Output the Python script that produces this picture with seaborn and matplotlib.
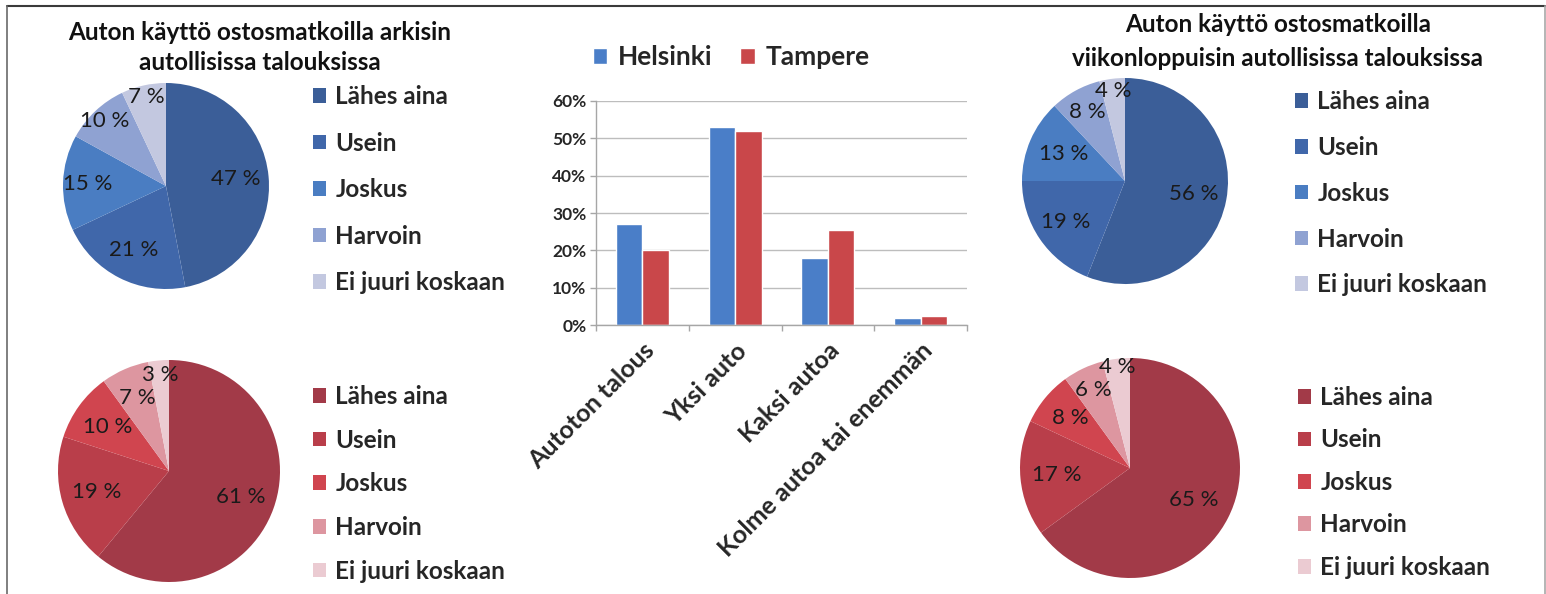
import numpy as np
import pandas as pd
import matplotlib
matplotlib.use("Agg")
import matplotlib.pyplot as plt
from matplotlib.lines import Line2D
from matplotlib.ticker import PercentFormatter, FixedLocator
import seaborn as sns

# Shopping-trip car use by frequency (%)
frequency_labels = ["Lähes aina", "Usein", "Joskus", "Harvoin", "Ei juuri koskaan"]
weekday_helsinki = [47, 21, 15, 10, 7]
weekday_tampere = [61, 19, 10, 7, 3]
weekend_helsinki = [56, 19, 13, 8, 4]
weekend_tampere = [65, 17, 8, 6, 4]

# Household car ownership by city (share)
household_types = ["Autoton talous", "Yksi auto", "Kaksi autoa", "Kolme autoa tai enemmän"]
cities = ["Helsinki", "Tampere"]
helsinki_share = [0.27, 0.53, 0.18, 0.02]
tampere_share = [0.20, 0.52, 0.255, 0.025]

title_weekday = ["Auton käyttö ostosmatkoilla arkisin", "autollisissa talouksissa"]
title_weekend = ["Auton käyttö ostosmatkoilla", "viikonloppuisin autollisissa talouksissa"]

blue_shades = ["#3B5E98", "#4067AA", "#4A7DC2", "#8FA2D2", "#C3C8E0"]
red_shades = ["#A23A48", "#B93E4A", "#D0454F", "#DD96A0", "#EBCBD2"]
city_colors = {"Helsinki": "#4A7EC8", "Tampere": "#C9474A"}

W, H = 1546, 594
sns.set_theme(style="white")
plt.rcParams["font.family"] = ["Lato", "DejaVu Sans"]

fig = plt.figure(figsize=(W / 100, H / 100), dpi=100)
fig.patch.set_facecolor("white")


def px_axes(left, top, width, height):
    return fig.add_axes([left / W, 1 - (top + height) / H, width / W, height / H])


def draw_pie(cx, cy, r, values, colors, label_dist, legend_x, legend_y, spacing):
    ax = px_axes(cx - r, cy - r, 2 * r, 2 * r)
    wedges, _ = ax.pie(values, colors=colors, startangle=90, counterclock=False,
                       wedgeprops=dict(linewidth=0))
    ax.set_xlim(-1, 1)
    ax.set_ylim(-1, 1)
    for w, v, d in zip(wedges, values, label_dist):
        mid = np.deg2rad((w.theta1 + w.theta2) / 2)
        ax.text(d * np.cos(mid), d * np.sin(mid), f"{v} %", ha="center", va="center",
                fontsize=16, color="#1a1a1a")
    ax.legend(wedges, frequency_labels, loc="upper left",
              bbox_to_anchor=(legend_x / W, 1 - legend_y / H), bbox_transform=fig.transFigure,
              frameon=False, borderpad=0, borderaxespad=0, handlelength=0.55,
              handleheight=0.55, handletextpad=0.37, labelspacing=spacing,
              prop=dict(weight="bold", size=17.5))


draw_pie(166, 186, 103, weekday_helsinki, blue_shades,
         [0.68, 0.70, 0.76, 0.87, 0.89], 313, 85, 0.97)
draw_pie(169, 471, 111, weekday_tampere, red_shades,
         [0.69, 0.68, 0.68, 0.72, 0.87], 313, 385, 0.85)
draw_pie(1125, 181, 103, weekend_helsinki, blue_shades,
         [0.68, 0.70, 0.65, 0.76, 0.88], 1295, 90, 0.94)
draw_pie(1130, 468, 110, weekend_tampere, red_shades,
         [0.65, 0.67, 0.71, 0.78, 0.93], 1298, 386, 0.80)

for (x, lines, ys) in [(260, title_weekday, (32, 63)), (1278, title_weekend, (25, 58))]:
    for line, y in zip(lines, ys):
        fig.text(x / W, 1 - y / H, line, ha="center", va="center",
                 fontsize=17.5, fontweight="bold", color="#111111")

# Grouped bar chart of car ownership
df = pd.DataFrame({
    "Tyyppi": household_types * 2,
    "Kaupunki": [cities[0]] * len(household_types) + [cities[1]] * len(household_types),
    "Osuus": helsinki_share + tampere_share,
})
axb = px_axes(596, 101, 371, 224)
sns.barplot(data=df, x="Tyyppi", y="Osuus", hue="Kaupunki", palette=city_colors,
            width=0.57, saturation=1, ax=axb)
axb.set_axisbelow(True)
axb.set_ylim(0, 0.6)
axb.set_xlim(-0.5, len(household_types) - 0.5)
axb.set_yticks(np.arange(0, 0.61, 0.1))
axb.yaxis.set_major_formatter(PercentFormatter(1, decimals=0))
axb.yaxis.grid(True, color="#BDBDBD", lw=1)
axb.xaxis.grid(False)
axb.set_xlabel("")
axb.set_ylabel("")
for s in ["top", "right"]:
    axb.spines[s].set_visible(False)
for s in ["left", "bottom"]:
    axb.spines[s].set_color("#A6A6A6")
    axb.spines[s].set_linewidth(1)
axb.tick_params(axis="y", which="major", length=4, width=1, color="#A6A6A6",
                direction="out", left=True, labelsize=12.5, pad=3)
for t in axb.get_yticklabels():
    t.set_fontweight("bold")
axb.tick_params(axis="x", which="major", length=0, pad=10)
axb.xaxis.set_minor_locator(FixedLocator(np.arange(-0.5, len(household_types), 1.0)))
axb.tick_params(axis="x", which="minor", length=4, width=1, color="#A6A6A6",
                direction="out", bottom=True)
axb.set_xticks(range(len(household_types)))
axb.set_xticklabels(household_types, rotation=45, ha="right", rotation_mode="anchor",
                    fontsize=18, fontweight="bold")
handles, labels = axb.get_legend_handles_labels()
axb.legend(handles, labels, loc="center", bbox_to_anchor=(731 / W, 1 - 57 / H),
           bbox_transform=fig.transFigure, ncol=2, frameon=False,
           prop=dict(weight="bold", size=19), handlelength=0.55, handleheight=0.55,
           columnspacing=1.06, handletextpad=0.4)

# Outer frame
fig.add_artist(Line2D([7 / W, 1545 / W], [1 - 6 / H, 1 - 6 / H], transform=fig.transFigure,
                      color="#3A3A3A", lw=1.5))
fig.add_artist(Line2D([7 / W, 7 / W], [1 - 6 / H, 0], transform=fig.transFigure,
                      color="#6A6A6A", lw=1.2))
fig.add_artist(Line2D([1545 / W, 1545 / W], [1 - 6 / H, 0], transform=fig.transFigure,
                      color="#A8A8A8", lw=1.2))

fig.savefig("out.png", dpi=100)
